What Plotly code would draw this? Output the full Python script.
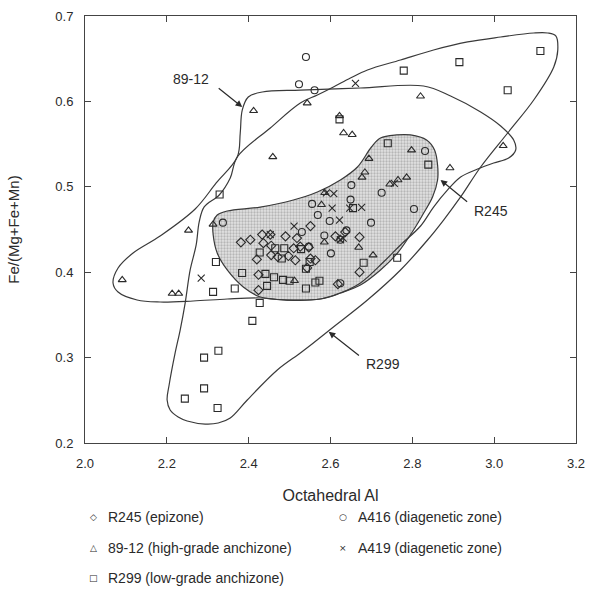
import plotly.graph_objects as go

# ---------------- data ----------------
r245_x = [2.381, 2.404, 2.433, 2.453, 2.436, 2.455, 2.490, 2.518, 2.420, 2.455, 2.471, 2.497, 2.510, 2.514,
          2.547, 2.551, 2.563, 2.424, 2.424, 2.543, 2.551, 2.526, 2.612, 2.636, 2.671, 2.671, 2.618]
r245_y = [0.435, 0.438, 0.444, 0.444, 0.434, 0.431, 0.442, 0.440, 0.415, 0.420, 0.418, 0.419, 0.428, 0.414,
          0.429, 0.416, 0.414, 0.397, 0.379, 0.405, 0.454, 0.430, 0.442, 0.447, 0.441, 0.400, 0.386]

a416_x = [2.540, 2.523, 2.561, 2.555, 2.569, 2.337, 2.831, 2.651, 2.725, 2.649, 2.804, 2.598, 2.699, 2.639,
          2.585, 2.601, 2.530, 2.624, 2.547, 2.624]
a416_y = [0.652, 0.620, 0.613, 0.480, 0.467, 0.458, 0.542, 0.502, 0.493, 0.485, 0.474, 0.460, 0.458, 0.449,
          0.443, 0.422, 0.447, 0.387, 0.430, 0.438]

s8912_x = [2.091, 2.213, 2.229, 2.253, 2.313, 2.412, 2.543, 2.459, 2.820, 3.022, 2.892, 2.622, 2.632, 2.653,
           2.798, 2.694, 2.684, 2.677, 2.745, 2.765, 2.786, 2.586, 2.578, 2.585, 2.669, 2.704, 2.512]
s8912_y = [0.391, 0.375, 0.375, 0.449, 0.456, 0.589, 0.598, 0.535, 0.606, 0.548, 0.522, 0.583, 0.563, 0.561,
           0.543, 0.533, 0.517, 0.511, 0.503, 0.508, 0.511, 0.493, 0.479, 0.435, 0.429, 0.420, 0.390]

a419_x = [2.661, 2.284, 2.511, 2.453, 2.590, 2.608, 2.604, 2.647, 2.676, 2.622, 2.756, 2.631, 2.624]
a419_y = [0.621, 0.393, 0.454, 0.444, 0.493, 0.492, 0.475, 0.475, 0.476, 0.461, 0.504, 0.440, 0.438]

r299_x = [2.244, 2.291, 2.324, 2.291, 2.326, 2.409, 2.427, 2.313, 2.366, 2.384, 2.320, 2.329, 2.427, 2.441,
          2.445, 2.462, 2.465, 2.484, 2.500, 2.481, 2.487, 2.528, 2.540, 2.540, 2.549, 2.563, 2.573, 2.655,
          2.681, 2.763, 2.740, 2.839, 2.779, 2.915, 3.113, 3.033, 2.622]
r299_y = [0.252, 0.264, 0.241, 0.300, 0.308, 0.343, 0.364, 0.377, 0.381, 0.399, 0.412, 0.491, 0.423, 0.398,
          0.384, 0.394, 0.428, 0.391, 0.390, 0.416, 0.428, 0.427, 0.381, 0.404, 0.412, 0.388, 0.390, 0.475,
          0.411, 0.417, 0.551, 0.526, 0.636, 0.646, 0.659, 0.613, 0.579]

# envelope outlines (data coordinates)
env_r245_x = [2.4945, 2.5753, 2.6242, 2.6732, 2.7222, 2.7638, 2.8029, 2.8250, 2.8494, 2.8617, 2.8617, 2.8543,
              2.8348, 2.7956, 2.7613, 2.7222, 2.7001, 2.6659, 2.6242, 2.5679, 2.5092, 2.4284, 2.3476, 2.3231,
              2.3133, 2.3133, 2.3231, 2.3476, 2.3868, 2.4284, 2.4945]
env_r245_y = [0.3674, 0.3686, 0.3756, 0.3850, 0.4026, 0.4225, 0.4494, 0.4670, 0.4880, 0.5080, 0.5255, 0.5431,
              0.5548, 0.5607, 0.5607, 0.5571, 0.5466, 0.5232, 0.5080, 0.4939, 0.4845, 0.4763, 0.4717, 0.4670,
              0.4588, 0.4436, 0.4225, 0.4026, 0.3827, 0.3710, 0.3674]

env_8912_x = [2.5263, 2.6732, 2.8274, 2.8935, 2.9670, 3.0159, 3.0477, 3.0526, 3.0355, 2.9988, 2.9596, 2.9180,
              2.8862, 2.8519, 2.8201, 2.7711, 2.7295, 2.6732, 2.6242, 2.5753, 2.4945, 2.4284, 2.3476, 2.2644,
              2.1836, 2.1273, 2.0808, 2.0685, 2.0808, 2.1175, 2.1836, 2.2693, 2.3207, 2.3721, 2.3794, 2.3843,
              2.3990, 2.4333, 2.5263]
env_8912_y = [0.6133, 0.6157, 0.6180, 0.6063, 0.5876, 0.5712, 0.5548, 0.5431, 0.5337, 0.5279, 0.5208, 0.5115,
              0.4963, 0.4763, 0.4541, 0.4319, 0.4119, 0.3874, 0.3756, 0.3686, 0.3674, 0.3698, 0.3686, 0.3663,
              0.3651, 0.3674, 0.3768, 0.3874, 0.4049, 0.4225, 0.4424, 0.4740, 0.5045, 0.5349, 0.5630, 0.5899,
              0.6052, 0.6110, 0.6133]

env_r299_x = [2.6903, 2.7711, 2.8372, 2.8764, 2.9180, 2.9670, 3.0330, 3.0967, 3.1457, 3.1555, 3.1506, 3.1310,
              3.0967, 3.0159, 2.9351, 2.8519, 2.7711, 2.6903, 2.6487, 2.6071, 2.5679, 2.5263, 2.4529, 2.3721,
              2.3550, 2.3280, 2.2913, 2.2791, 2.2717, 2.2570, 2.2448, 2.2326, 2.2203, 2.2056, 2.2007, 2.2081,
              2.2277, 2.2497, 2.2938, 2.3256, 2.3550, 2.3966, 2.4700, 2.5263, 2.5581, 2.6071, 2.6903]
env_r299_y = [0.3674, 0.4026, 0.4377, 0.4611, 0.4881, 0.5232, 0.5630, 0.6016, 0.6403, 0.6602, 0.6766, 0.6801,
              0.6801, 0.6754, 0.6696, 0.6602, 0.6485, 0.6368, 0.6274, 0.6169, 0.6075, 0.5981, 0.5689, 0.5349,
              0.5103, 0.4904, 0.4764, 0.4588, 0.4319, 0.4026, 0.3639, 0.3323, 0.3054, 0.2679, 0.2504, 0.2386,
              0.2304, 0.2258, 0.2222, 0.2234, 0.2293, 0.2504, 0.2855, 0.3054, 0.3171, 0.3358, 0.3674]

x_ticks = [2.0, 2.2, 2.4, 2.6, 2.8, 3.0, 3.2]
y_ticks = [0.2, 0.3, 0.4, 0.5, 0.6, 0.7]

legend_labels = ["R245 (epizone)", "A416 (diagenetic zone)", "89-12 (high-grade anchizone)",
                 "A419 (diagenetic zone)", "R299 (low-grade anchizone)"]

# ---------------- figure ----------------
INK = "#2a2a2a"
FONT = "Liberation Sans, Arial, sans-serif"
fig = go.Figure()

fig.add_trace(go.Scatter(x=env_r245_x, y=env_r245_y, mode="lines", fill="toself",
                         line=dict(color="#3a3a3a", width=1.2, shape="spline", smoothing=1.0),
                         fillcolor="#dcdcdc",
                         fillpattern=dict(shape=".", bgcolor="#e2e2e2", fgcolor="#8a8a8a", size=3, solidity=0.45),
                         hoverinfo="skip", showlegend=False))
for ex, ey in [(env_8912_x, env_8912_y), (env_r299_x, env_r299_y)]:
    fig.add_trace(go.Scatter(x=ex, y=ey, mode="lines",
                             line=dict(color="#3a3a3a", width=1.2, shape="spline", smoothing=1.0),
                             hoverinfo="skip", showlegend=False))

series = [
    (r245_x, r245_y, "diamond-open", 7, legend_labels[0]),
    (a416_x, a416_y, "circle-open", 7, legend_labels[1]),
    (s8912_x, s8912_y, "triangle-up-open", 7, legend_labels[2]),
    (a419_x, a419_y, "x-thin-open", 7, legend_labels[3]),
    (r299_x, r299_y, "square-open", 7, legend_labels[4]),
]
for sx, sy, sym, sz, name in series:
    fig.add_trace(go.Scatter(x=sx, y=sy, mode="markers", name=name,
                             marker=dict(symbol=sym, size=sz, color=INK, line=dict(width=1.1, color=INK)),
                             showlegend=False))

# arrows and labels
arrows = [
    # (tip x, tip y, tail x, tail y, label, label x, label y)
    (2.3843, 0.5934, 2.3231, 0.6169, "89-12", 2.2595, 0.6262),
    (2.8690, 0.5080, 2.9376, 0.4810, "R245", 2.9914, 0.4717),
    (2.5956, 0.3303, 2.6732, 0.3011, "R299", 2.7271, 0.2925),
]
for tx, ty, ax, ay, lab, lx, ly in arrows:
    fig.add_annotation(x=tx, y=ty, ax=ax, ay=ay, xref="x", yref="y", axref="x", ayref="y",
                       text="", showarrow=True, arrowhead=2, arrowsize=1.1, arrowwidth=1.2, arrowcolor=INK)
    fig.add_annotation(x=lx, y=ly, xref="x", yref="y", text=lab, showarrow=False,
                       font=dict(family=FONT, size=14, color=INK))

# legend (as text rows)
leg_syms = ["\u25C7", "\u25CB", "\u25B3", "\u00D7", "\u25A1"]
leg_pos = [(0.0163, 0.0428, -0.1733), (0.5255, 0.5519, -0.1733),
           (0.0163, 0.0428, -0.2459), (0.5255, 0.5519, -0.2459),
           (0.0163, 0.0428, -0.3162)]
for sym, lab, (sx, tx, yy) in zip(leg_syms, legend_labels, leg_pos):
    fig.add_annotation(x=sx, y=yy, xref="paper", yref="paper", text=sym, showarrow=False,
                       xanchor="center", yanchor="middle",
                       font=dict(family="DejaVu Sans", size=9, color=INK))
    fig.add_annotation(x=tx, y=yy, xref="paper", yref="paper", text=lab, showarrow=False,
                       xanchor="left", yanchor="middle",
                       font=dict(family=FONT, size=14, color=INK))

axis_common = dict(showgrid=False, zeroline=False, showline=True, linecolor="#444", linewidth=1,
                   mirror="ticks", ticks="inside", ticklen=6, tickwidth=1, tickcolor="#444",
                   automargin=False,
                   tickfont=dict(family=FONT, size=13, color=INK))
fig.update_xaxes(range=[2.0, 3.2], tickvals=x_ticks, ticktext=[f"{v:.1f}" for v in x_ticks],
                 ticklabelstandoff=8,
                 title=dict(text="Octahedral Al", font=dict(family=FONT, size=16, color=INK), standoff=20),
                 **axis_common)
fig.update_yaxes(range=[0.2, 0.7], tickvals=y_ticks, ticktext=[f"{v:.1f}" for v in y_ticks],
                 ticklabelstandoff=8,
                 title=dict(text="Fe/(Mg+Fe+Mn)", font=dict(family=FONT, size=15, color=INK), standoff=32),
                 **axis_common)

fig.update_layout(width=589, height=613, margin=dict(l=85, r=13, t=16, b=170),
                  plot_bgcolor="white", paper_bgcolor="white", showlegend=False)

fig.write_html("out.html")
